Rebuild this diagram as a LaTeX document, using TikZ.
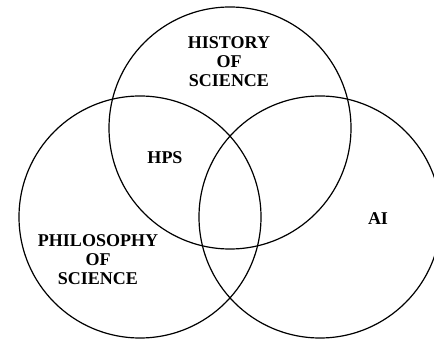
\documentclass[tikz,border=0pt]{standalone}
\usepackage{fontspec}
\setmainfont{Liberation Serif}
\begin{document}
\begin{tikzpicture}[x=1pt,y=-1pt,
  ring/.style={draw=black,line width=1.2pt},
  lbl/.style={font=\bfseries\fontsize{18}{19}\selectfont,align=center,inner sep=0pt}]
\useasboundingbox (0,0) rectangle (434,339);
\clip (0,0) rectangle (434,339);
\node[ring,circle,minimum size=242pt,inner sep=0pt] (hist) at (230,128) {};
\node[ring,circle,minimum size=242pt,inner sep=0pt] (phil) at (140,217) {};
\node[ring,circle,minimum size=242pt,inner sep=0pt] (ai) at (320,217) {};
\node[lbl] (histlbl) at (229,62) {HISTORY\\OF\\SCIENCE};
\node[lbl] (hps) at (165,158) {HPS};
\node[lbl] (ailbl) at (378,219) {AI};
\node[lbl] (phillbl) at (98,260) {PHILOSOPHY\\OF\\SCIENCE};
\end{tikzpicture}
\end{document}
